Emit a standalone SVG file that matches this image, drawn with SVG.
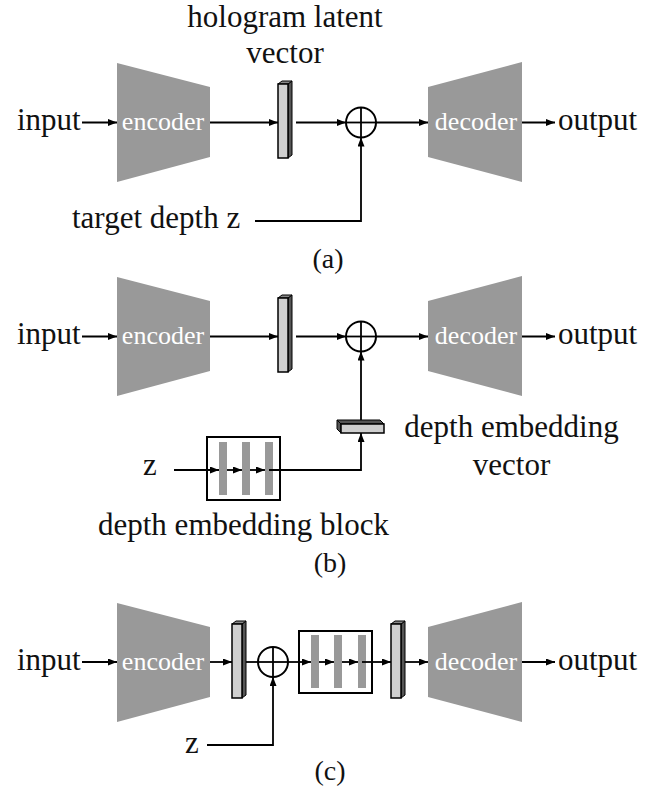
<svg xmlns="http://www.w3.org/2000/svg" xmlns:xlink="http://www.w3.org/1999/xlink" width="655" height="793" viewBox="0 0 655 793">
<style>
.t{font-family:"Liberation Serif","Times New Roman",serif;font-size:31px;fill:#111}
.w{font-family:"Liberation Serif","Times New Roman",serif;font-size:26px;fill:#fff;text-anchor:middle}
.cap{font-family:"Liberation Serif","Times New Roman",serif;font-size:28px;fill:#111;text-anchor:middle}
.trap{fill:#999}
.ln{stroke:#000;stroke-width:1.8;fill:none}
.ar{stroke:#000;stroke-width:1.8;fill:none;marker-end:url(#ah)}
.sum{stroke:#000;stroke-width:2;fill:#fff}
.blk{stroke:#000;stroke-width:2;fill:#fff}
.ib{fill:#999}
</style>
<defs>
<marker id="ah" markerUnits="userSpaceOnUse" markerWidth="9" markerHeight="7" refX="9" refY="3.5" orient="auto">
<path d="M0,0 L9,3.5 L0,7 z" fill="#000"/>
</marker>
<g id="bar">
<polygon points="10,3 14,0 14,74 10,77" fill="#555" stroke="#000" stroke-width="1"/>
<polygon points="0,3 4,0 14,0 10,3" fill="#888" stroke="#000" stroke-width="1"/>
<rect x="0" y="3" width="10" height="74" fill="#cfcfcf" stroke="#000" stroke-width="1.5"/>
</g>
<g id="plus">
<circle cx="0" cy="0" r="15" class="sum"/>
<line x1="-15" y1="0" x2="15" y2="0" class="ln"/>
<line x1="0" y1="-15" x2="0" y2="15" class="ln"/>
</g>
</defs>

<!-- (a) -->
<g id="a-input"><text class="t" x="17" y="130">input</text></g>
<g id="a-encoder"><polygon class="trap" points="117,63 210,87 210,157 117,182"/><text class="w" x="163" y="130">encoder</text></g>
<g id="a-latent"><use xlink:href="#bar" x="278" y="81"/>
<text class="t" x="285" y="27" text-anchor="middle">hologram latent</text>
<text class="t" x="285" y="63" text-anchor="middle">vector</text></g>
<g id="a-sum"><use xlink:href="#plus" x="361" y="122.5"/></g>
<g id="a-decoder"><polygon class="trap" points="428,87 522,62 522,182 428,157"/><text class="w" x="476" y="130">decoder</text></g>
<g id="a-output"><text class="t" x="558" y="130">output</text></g>
<g id="a-depth"><text class="t" x="72" y="228">target depth z</text></g>
<g id="a-caption"><text class="cap" x="328" y="268">(a)</text></g>
<g id="a-connectors">
<line class="ar" x1="82" y1="122.5" x2="117" y2="122.5"/>
<line class="ar" x1="210" y1="122.5" x2="278" y2="122.5"/>
<line class="ar" x1="296" y1="122.5" x2="346" y2="122.5"/>
<line class="ar" x1="376" y1="122.5" x2="428" y2="122.5"/>
<line class="ar" x1="522" y1="122.5" x2="555" y2="122.5"/>
<polyline class="ar" points="255,221 361,221 361,137.5"/>
</g>

<!-- (b) -->
<g id="b-input"><text class="t" x="17" y="344">input</text></g>
<g id="b-encoder"><polygon class="trap" points="117,277 210,301 210,371 117,396"/><text class="w" x="163" y="344">encoder</text></g>
<g id="b-latent"><use xlink:href="#bar" x="278" y="295"/></g>
<g id="b-sum"><use xlink:href="#plus" x="361" y="336.5"/></g>
<g id="b-decoder"><polygon class="trap" points="428,301 522,276 522,396 428,371"/><text class="w" x="476" y="344">decoder</text></g>
<g id="b-output"><text class="t" x="558" y="344">output</text></g>
<g id="b-embvec">
<polygon points="341,424 337,420 380,420 384,424" fill="#555" stroke="#000" stroke-width="1"/>
<polygon points="337,420 341,424 341,433 337,429" fill="#555" stroke="#000" stroke-width="1"/>
<rect x="341" y="424" width="43" height="9" fill="#cfcfcf" stroke="#000" stroke-width="1.5"/>
<text class="t" x="511.5" y="437" text-anchor="middle">depth embedding</text>
<text class="t" x="511.5" y="475" text-anchor="middle">vector</text>
</g>
<g id="b-z"><text class="t" x="143" y="475">z</text></g>
<g id="b-block">
<rect class="blk" x="207" y="437" width="73" height="63"/>
<rect class="ib" x="219" y="442" width="8" height="53"/>
<rect class="ib" x="242" y="442" width="8" height="53"/>
<rect class="ib" x="265" y="442" width="8" height="53"/>
<text class="t" x="243.5" y="535" text-anchor="middle">depth embedding block</text>
</g>
<g id="b-caption"><text class="cap" x="330" y="572">(b)</text></g>
<g id="b-connectors">
<line class="ar" x1="82" y1="336.5" x2="117" y2="336.5"/>
<line class="ar" x1="210" y1="336.5" x2="278" y2="336.5"/>
<line class="ar" x1="296" y1="336.5" x2="346" y2="336.5"/>
<line class="ar" x1="376" y1="336.5" x2="428" y2="336.5"/>
<line class="ar" x1="522" y1="336.5" x2="555" y2="336.5"/>
<line class="ar" x1="361" y1="420" x2="361" y2="351.5"/>
<line class="ar" x1="174" y1="470" x2="219" y2="470"/>
<line class="ar" x1="227" y1="470" x2="242" y2="470"/>
<line class="ar" x1="250" y1="470" x2="265" y2="470"/>
<polyline class="ar" points="269,470 361,470 361,433"/>
</g>

<!-- (c) -->
<g id="c-input"><text class="t" x="17" y="670">input</text></g>
<g id="c-encoder"><polygon class="trap" points="117,603 210,627 210,697 117,722"/><text class="w" x="163" y="670">encoder</text></g>
<g id="c-latent1"><use xlink:href="#bar" x="232" y="621"/></g>
<g id="c-sum"><use xlink:href="#plus" x="273" y="662"/></g>
<g id="c-z"><text class="t" x="185" y="753">z</text></g>
<g id="c-block">
<rect class="blk" x="299" y="631" width="73" height="62"/>
<rect class="ib" x="311" y="635" width="8" height="53"/>
<rect class="ib" x="334" y="635" width="8" height="53"/>
<rect class="ib" x="358" y="635" width="8" height="53"/>
</g>
<g id="c-latent2"><use xlink:href="#bar" x="391" y="621"/></g>
<g id="c-decoder"><polygon class="trap" points="428,627 522,602 522,722 428,697"/><text class="w" x="476" y="670">decoder</text></g>
<g id="c-output"><text class="t" x="558" y="670">output</text></g>
<g id="c-caption"><text class="cap" x="330" y="780">(c)</text></g>
<g id="c-connectors">
<line class="ar" x1="82" y1="662" x2="117" y2="662"/>
<line class="ar" x1="210" y1="662" x2="232" y2="662"/>
<line class="ln" x1="246" y1="662" x2="258" y2="662"/>
<polyline class="ar" points="207,745 273,745 273,677"/>
<line class="ar" x1="288" y1="662" x2="311" y2="662"/>
<line class="ar" x1="319" y1="662" x2="334" y2="662"/>
<line class="ar" x1="342" y1="662" x2="358" y2="662"/>
<line class="ar" x1="362" y1="662" x2="391" y2="662"/>
<line class="ar" x1="405" y1="662" x2="428" y2="662"/>
<line class="ar" x1="522" y1="662" x2="555" y2="662"/>
</g>
</svg>
